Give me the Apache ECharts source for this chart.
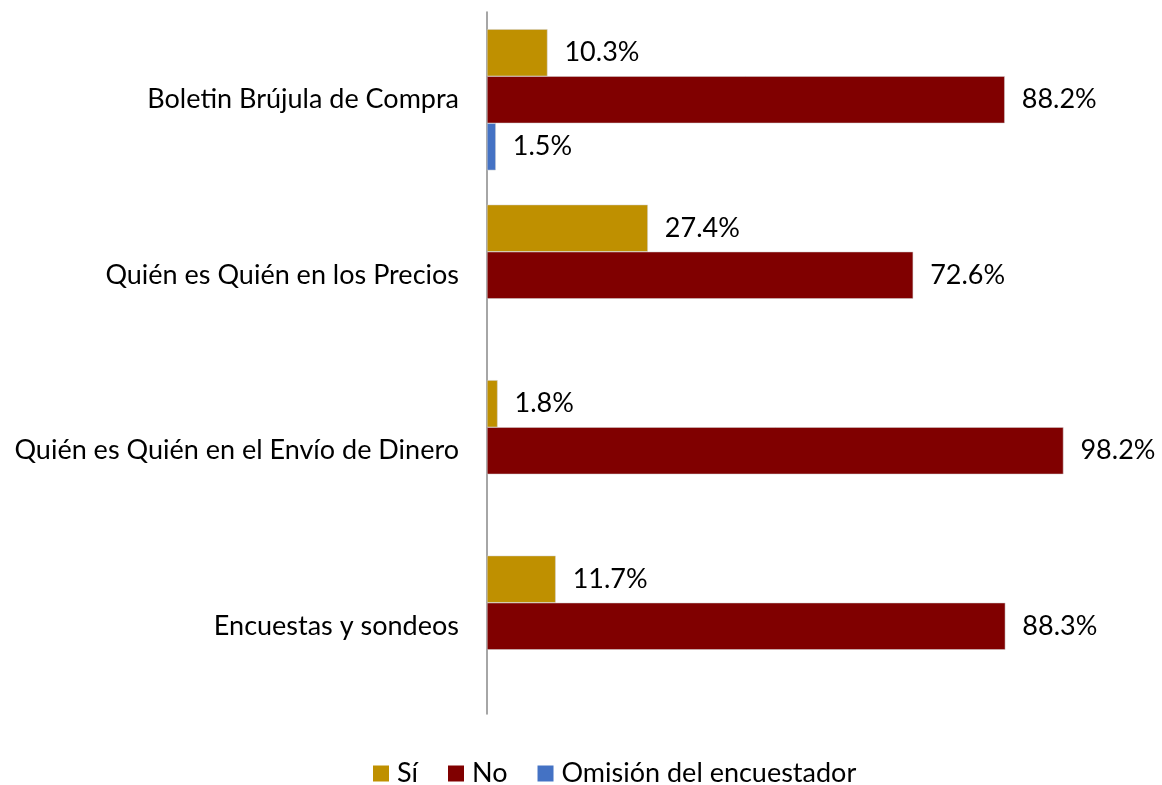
<!DOCTYPE html>
<html><head><meta charset="utf-8">
<script src="https://cdn.jsdelivr.net/npm/echarts@6/dist/echarts.min.js"></script>
<style>html,body{margin:0;padding:0;background:#fff}#c{width:1162px;height:785px}</style>
</head><body><div id="c"></div>
<script>
const categories = ['Boletin Brújula de Compra','Quién es Quién en los Precios','Quién es Quién en el Envío de Dinero','Encuestas y sondeos'];
const si = [10.3, 27.4, 1.8, 11.7];
const no = [88.2, 72.6, 98.2, 88.3];
const omision = [1.5, null, null, null];
const FONT = 'Lato';
const chart = echarts.init(document.getElementById('c'));
const lbl = {show:true, position:'right', distance:17, color:'#000', fontFamily:FONT, fontSize:27, formatter: p => p.value.toFixed(1) + '%'};
function s(name, data, color){
  return {name, type:'bar', data, barGap:'0%', barCategoryGap:'19.6%',
    itemStyle:{color, borderColor:'#d0d0d0', borderWidth:0.5}, label:lbl};
}
chart.setOption({
  backgroundColor:'#fff',
  animation:false,
  grid:{left:487, top:12, width:587, height:702},
  xAxis:{type:'value', min:0, max:100, show:false},
  yAxis:{type:'category', data:categories, inverse:true,
    axisLine:{show:true, lineStyle:{color:'#888', width:1.5}}, axisTick:{show:false},
    axisLabel:{margin:28, color:'#000', fontFamily:FONT, fontSize:27}},
  legend:{top:755, left:368, itemWidth:16, itemHeight:16, itemGap:30, icon:'rect',
    itemStyle:{borderWidth:0},
    textStyle:{fontFamily:FONT, fontSize:27, color:'#000', padding:[0,0,0,3]},
    data:['Sí','No','Omisión del encuestador']},
  series:[s('Sí', si, '#BF9000'), s('No', no, '#800000'), s('Omisión del encuestador', omision, '#4472C4')]
});
</script></body></html>
